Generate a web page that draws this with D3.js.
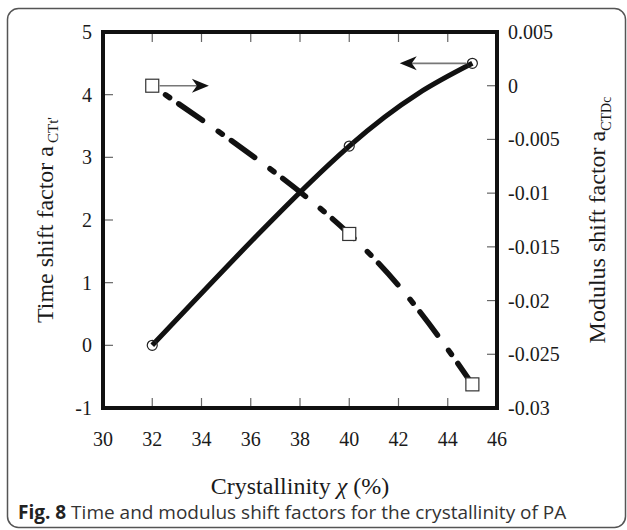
<!DOCTYPE html>
<html>
<head>
<meta charset="utf-8">
<script src="https://cdn.jsdelivr.net/npm/d3@7"></script>
<style>
  html, body { margin: 0; padding: 0; background: #fff; }
  svg { display: block; }
</style>
</head>
<body>
<div id="chart"></div>
<script>
// crystallinity (%) at which the shift factors were measured
const crystallinity = [32, 40, 45];
// time shift factor a_CTt' (left axis, circles, solid line)
const timeShift = [0, 3.18, 4.5];
// modulus shift factor a_CTDc (right axis, squares, dashed line)
const modulusShift = [0, -0.0138, -0.0278];

const xTicks = [30, 32, 34, 36, 38, 40, 42, 44, 46];
const yLeftTicks = [-1, 0, 1, 2, 3, 4, 5];
const yRightTicks = [-0.03, -0.025, -0.02, -0.015, -0.01, -0.005, 0, 0.005];

// arrows telling which axis each curve belongs to: [from, to] in crystallinity units
const arrowLeft = { from: 44.75, to: 42.05, y: 4.5 };
const arrowRight = { from: 32.3, to: 34.3, y: 0 };

const W = 627, H = 530;
const margin = { top: 32, right: 130, bottom: 122, left: 103 };
const serif = "'Liberation Serif', 'Times New Roman', serif";

const svg = d3.select("#chart").append("svg")
  .attr("width", W)
  .attr("height", H);

// card frame
svg.append("rect")
  .attr("x", 7.5).attr("y", 8.5)
  .attr("width", W - 9).attr("height", H - 11)
  .attr("rx", 11).attr("ry", 11)
  .attr("fill", "none")
  .attr("stroke", "#555")
  .attr("stroke-width", 1.5);

const x = d3.scaleLinear().domain([30, 46]).range([margin.left, W - margin.right]);
const yL = d3.scaleLinear().domain([-1, 5]).range([H - margin.bottom, margin.top]);
const yR = d3.scaleLinear().domain([-0.03, 0.005]).range([H - margin.bottom, margin.top]);

const [x0, x1] = x.range();
const [yb, yt] = yL.range();

// inner ticks
const tickLen = 10;
const axisG = svg.append("g").attr("stroke", "#666").attr("stroke-width", 1.2);
xTicks.slice(1, -1).forEach(t => {
  axisG.append("line").attr("x1", x(t)).attr("x2", x(t)).attr("y1", yt).attr("y2", yt + tickLen);
  axisG.append("line").attr("x1", x(t)).attr("x2", x(t)).attr("y1", yb).attr("y2", yb - tickLen);
});
yLeftTicks.slice(1, -1).forEach(t => {
  axisG.append("line").attr("x1", x0).attr("x2", x0 + tickLen).attr("y1", yL(t)).attr("y2", yL(t));
});
yRightTicks.slice(1, -1).forEach(t => {
  axisG.append("line").attr("x1", x1).attr("x2", x1 - tickLen).attr("y1", yR(t)).attr("y2", yR(t));
});

// tick labels
const labels = svg.append("g")
  .attr("font-family", serif)
  .attr("font-size", 20)
  .attr("fill", "#1a1a1a");

labels.selectAll(".xl").data(xTicks).join("text")
  .attr("x", d => x(d))
  .attr("y", 446)
  .attr("text-anchor", "middle")
  .text(d => d);

labels.selectAll(".yl").data(yLeftTicks).join("text")
  .attr("x", x0 - 11)
  .attr("y", d => yL(d) + 7)
  .attr("text-anchor", "end")
  .text(d => d);

labels.selectAll(".yr").data(yRightTicks).join("text")
  .attr("x", x1 + 11)
  .attr("y", d => yR(d) + 7)
  .attr("text-anchor", "start")
  .text(d => d === 0 ? "0" : String(+d.toFixed(3)));

// curves
const ptsL = crystallinity.map((c, i) => [x(c), yL(timeShift[i])]);
const ptsR = crystallinity.map((c, i) => [x(c), yR(modulusShift[i])]);
const line = d3.line().curve(d3.curveNatural);

svg.append("path")
  .attr("d", line(ptsL))
  .attr("fill", "none")
  .attr("stroke", "#111")
  .attr("stroke-width", 5);

// dash-dot look: short dash, small gap, long dash, larger gap (round pen ends)
svg.append("path")
  .attr("d", line(ptsR))
  .attr("fill", "none")
  .attr("stroke", "#111")
  .attr("stroke-width", 5.5)
  .attr("stroke-linecap", "round")
  .attr("stroke-dasharray", "5,11,29,19")
  .attr("stroke-dashoffset", 48);

// arrows
function arrow(a, yScale) {
  const xa = x(a.from), xb = x(a.to), yy = yScale(a.y);
  const dir = Math.sign(xb - xa);
  svg.append("line")
    .attr("x1", xa).attr("x2", xb - dir * 4)
    .attr("y1", yy).attr("y2", yy)
    .attr("stroke", "#777")
    .attr("stroke-width", 1.6);
  svg.append("path")
    .attr("d", `M${xb},${yy} L${xb - dir * 17},${yy - 7} L${xb - dir * 12},${yy} L${xb - dir * 17},${yy + 7} Z`)
    .attr("fill", "#111");
}
arrow(arrowLeft, yL);
arrow(arrowRight, yR);

// markers
svg.selectAll(".circ").data(ptsL).join("circle")
  .attr("cx", d => d[0]).attr("cy", d => d[1])
  .attr("r", 5)
  .attr("fill", "none")
  .attr("stroke", "#222")
  .attr("stroke-width", 1.2);

svg.selectAll(".sq").data(ptsR).join("rect")
  .attr("x", d => d[0] - 6.5).attr("y", d => d[1] - 6.5)
  .attr("width", 13).attr("height", 13)
  .attr("fill", "#fff")
  .attr("stroke", "#333")
  .attr("stroke-width", 1.2);

// plot frame
svg.append("rect")
  .attr("x", x0).attr("y", yt)
  .attr("width", x1 - x0).attr("height", yb - yt)
  .attr("fill", "none")
  .attr("stroke", "#111")
  .attr("stroke-width", 4);

// axis titles
const titles = svg.append("g")
  .attr("font-family", serif)
  .attr("fill", "#1a1a1a");

const cy = (yt + yb) / 2;

titles.append("text")
  .attr("x", (x0 + x1) / 2)
  .attr("y", 494)
  .attr("text-anchor", "middle")
  .attr("font-size", 24)
  .call(t => {
    t.append("tspan").text("Crystallinity ");
    t.append("tspan").attr("font-style", "italic").text("χ");
    t.append("tspan").text(" (%)");
  });

titles.append("text")
  .attr("transform", `translate(53,${cy}) rotate(-90)`)
  .attr("text-anchor", "middle")
  .attr("font-size", 24)
  .call(t => {
    t.append("tspan").text("Time shift factor a");
    t.append("tspan").attr("font-size", 15).attr("dx", 3).attr("dy", 5).text("CTt'");
  });

titles.append("text")
  .attr("transform", `translate(605,${cy}) rotate(-90)`)
  .attr("text-anchor", "middle")
  .attr("font-size", 24)
  .call(t => {
    t.append("tspan").text("Modulus shift factor a");
    t.append("tspan").attr("font-size", 14).attr("dy", 6).text("CTDc");
  });

// caption
const cap = svg.append("text")
  .attr("x", 18)
  .attr("y", 519)
  .attr("font-family", "'Open Sans', 'Noto Sans', sans-serif")
  .attr("font-size", 19)
  .attr("fill", "#333");
cap.append("tspan").attr("font-weight", "bold").attr("fill", "#222").text("Fig. 8");
cap.append("tspan").text(" Time and modulus shift factors for the crystallinity of PA");
</script>
</body>
</html>
